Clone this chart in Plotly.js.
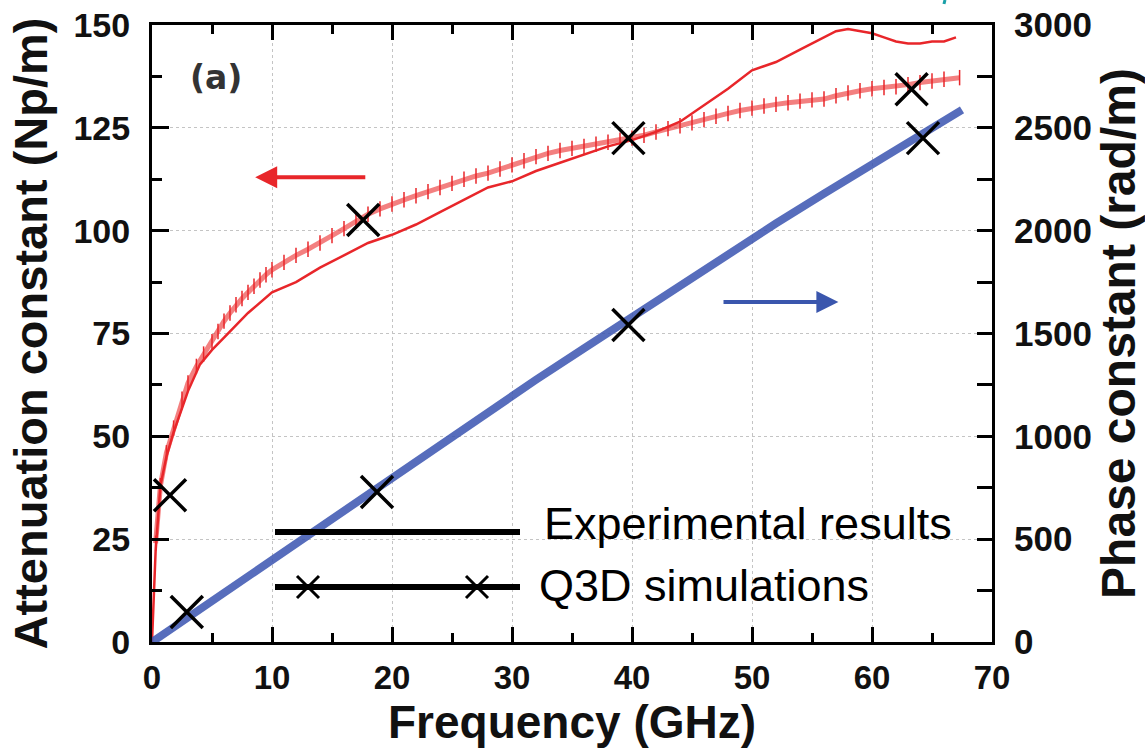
<!DOCTYPE html>
<html>
<head>
<meta charset="utf-8">
<script src="https://cdn.plot.ly/plotly-3.0.1.min.js"></script>
<style>html,body{margin:0;padding:0;background:#fff;}#chart{width:1145px;height:753px;}</style>
</head>
<body>
<div id="chart"></div>
<script>
// Attenuation constant, experimental (smooth line), Np/m
const freqExp = [0, 0.3, 0.7, 1.2, 1.8, 2.5, 3, 4, 5, 6, 7, 8, 10, 12, 14, 16, 18, 20, 22, 24, 26, 28, 30, 32, 34, 36, 38, 40, 42, 44, 46, 48, 50, 52, 54, 56, 57, 58, 59, 60, 61, 62, 63, 64, 65, 66, 67];
const alphaExp = [0, 22, 38, 45, 51, 57, 61, 67.5, 71, 74, 77, 80, 85, 87.5, 91, 94, 97, 99, 101.5, 104.5, 107.5, 110.5, 112, 114.5, 116.5, 118.5, 120.5, 122, 124, 126.5, 130.5, 134.5, 139, 141, 144, 147, 148.5, 149, 148.5, 148, 147, 146, 145.5, 145.5, 146, 146, 147];
// Attenuation constant, experimental (hatched curve), Np/m
const freqFit = [0.3, 0.7, 1.2, 1.8, 2.5, 3, 3.7, 4.3, 5, 5.5, 6, 6.5, 7, 7.5, 8, 8.5, 9, 9.5, 10, 11, 12, 13, 14, 15, 16, 17, 18, 19, 20, 21, 22, 23, 24, 25, 26, 27, 28, 29, 30, 31, 32, 33, 34, 35, 36, 37, 38, 39, 40, 41, 42, 43, 44, 45, 46, 47, 48, 49, 50, 51, 52, 53, 54, 55, 56, 57, 58, 59, 60, 61, 62, 63, 64, 65, 66, 67.3];
const alphaFit = [24, 38, 46, 52, 59, 63, 67, 70, 73, 75.5, 78, 80, 82, 83.5, 85, 86.5, 88, 89.3, 90.5, 92.3, 94, 95.5, 97, 98.8, 100.5, 102.3, 104, 105.3, 106.5, 107.5, 108.5, 109.5, 110.5, 111.5, 112.5, 113.3, 114, 115, 116, 117, 118, 118.8, 119.5, 120, 120.5, 121, 121.5, 122, 122.5, 123.2, 124, 124.8, 125.5, 126.2, 127, 127.8, 128.5, 129.2, 129.8, 130.3, 130.7, 131.1, 131.5, 131.8, 132, 132.8, 133.5, 134, 134.5, 134.8, 135, 135.5, 136, 136.4, 136.8, 137.2];
// Phase constant, experimental, rad/m
const freqPhase = [0, 2, 4, 6, 8, 10, 13, 16, 20, 24, 28, 32, 36, 40, 44, 48, 52, 56, 60, 64, 67.5];
const betaExp = [0, 80, 165, 245, 325, 405, 525, 645, 800, 960, 1118, 1275, 1428, 1580, 1735, 1888, 2035, 2180, 2322, 2462, 2587];
// Q3D simulations
const freqSimA = [1.5, 17.6, 39.7, 63.3];
const alphaSim = [35.7, 102.6, 122.5, 134.4];
const freqSimB = [2.9, 18.75, 39.7, 64.25];
const betaSim = [146, 729, 1541, 2450];

const xTicks = [0, 10, 20, 30, 40, 50, 60, 70];
const yTicks = [0, 25, 50, 75, 100, 125, 150];
const y2Ticks = [0, 500, 1000, 1500, 2000, 2500, 3000];

const RED = '#e8262a';
const BLUE = 'rgba(58,84,176,0.85)';
const FONT = 'Liberation Sans, Arial, Helvetica, sans-serif';

const traces = [
  {x: freqFit, y: alphaFit, type: 'scatter', mode: 'lines+markers', name: 'Experimental (α, hatched)',
   line: {color: 'rgba(236,50,50,0.62)', width: 5},
   marker: {symbol: 'line-ns-open', size: 11, line: {color: 'rgba(232,30,35,0.9)', width: 1.5}, color: RED}, yaxis: 'y'},
  {x: freqExp, y: alphaExp, type: 'scatter', mode: 'lines', name: 'Experimental results (α)',
   line: {color: RED, width: 2.5}, yaxis: 'y'},
  {x: freqPhase, y: betaExp, type: 'scatter', mode: 'lines', name: 'Experimental results (β)',
   line: {color: BLUE, width: 8}, yaxis: 'y2'},
  {x: freqSimA, y: alphaSim, type: 'scatter', mode: 'markers', name: 'Q3D simulations (α)',
   marker: {symbol: 'x-thin', size: 32, line: {color: '#000', width: 3.5}}, yaxis: 'y'},
  {x: freqSimB, y: betaSim, type: 'scatter', mode: 'markers', name: 'Q3D simulations (β)',
   marker: {symbol: 'x-thin', size: 32, line: {color: '#000', width: 3.5}}, yaxis: 'y2'}
];

// pixel -> paper helpers for legend decorations
const L = 152, R = 992, T = 25, B = 642;
const px = v => (v - L) / (R - L);
const py = v => (B - v) / (B - T);
function xPath(cx, cy, h) {
  return `M${px(cx - h)},${py(cy - h)} L${px(cx + h)},${py(cy + h)} M${px(cx - h)},${py(cy + h)} L${px(cx + h)},${py(cy - h)}`;
}

const axisCommon = {
  ticks: 'inside', tickcolor: '#000', tickwidth: 3,
  showline: true, linecolor: '#000', linewidth: 3,
  zeroline: false, gridcolor: '#c4c4c4', griddash: 'dot', gridwidth: 1
};

const layout = {
  width: 1145, height: 753,
  margin: {l: L, r: 1145 - R, t: T, b: 753 - B},
  paper_bgcolor: '#fff', plot_bgcolor: '#fff',
  showlegend: false,
  font: {family: FONT, color: '#111'},
  xaxis: Object.assign({}, axisCommon, {
    range: [0, 70], tickvals: xTicks, ticktext: xTicks.map(String), ticklen: 15,
    mirror: 'ticks', showgrid: true,
    minor: {dtick: 5, ticklen: 9, tickwidth: 3, tickcolor: '#000', ticks: 'inside', showgrid: false},
    tickfont: {family: FONT, size: 33, weight: 'bold', color: '#111'},
    ticklabelstandoff: 4,
    title: {text: 'Frequency (GHz)', font: {family: FONT, size: 46, weight: 'bold', color: '#111'}, standoff: 4}
  }),
  yaxis: Object.assign({}, axisCommon, {
    range: [0, 150], tickvals: yTicks, ticktext: yTicks.map(String), ticklen: 17,
    showgrid: true,
    minor: {dtick: 12.5, ticklen: 10, tickwidth: 3, tickcolor: '#000', ticks: 'inside', showgrid: false},
    tickfont: {family: FONT, size: 34, weight: 'bold', color: '#111'},
    ticklabelstandoff: 12,
    title: {text: 'Attenuation constant (Np/m)', font: {family: FONT, size: 47, weight: 'bold', color: '#111'}, standoff: 12}
  }),
  yaxis2: Object.assign({}, axisCommon, {
    overlaying: 'y', side: 'right', anchor: 'x',
    range: [0, 3000], tickvals: y2Ticks, ticktext: y2Ticks.map(String), ticklen: 15,
    showgrid: false,
    minor: {dtick: 250, ticklen: 15, tickwidth: 3, tickcolor: '#000', ticks: 'inside', showgrid: false},
    tickfont: {family: FONT, size: 35, weight: 'bold', color: '#111'},
    ticklabelstandoff: 12,
    title: {text: 'Phase constant (rad/m)', font: {family: FONT, size: 48, weight: 'bold', color: '#111'}, standoff: 10}
  }),
  shapes: [
    {type: 'line', xref: 'paper', yref: 'paper', x0: px(275), x1: px(520), y0: py(532), y1: py(532), line: {color: '#000', width: 6}},
    {type: 'line', xref: 'paper', yref: 'paper', x0: px(275), x1: px(520), y0: py(587), y1: py(587), line: {color: '#000', width: 6}},
    {type: 'path', xref: 'paper', yref: 'paper', path: xPath(308, 587, 11), line: {color: '#000', width: 3}},
    {type: 'path', xref: 'paper', yref: 'paper', path: xPath(477, 587, 11), line: {color: '#000', width: 3}},
    {type: 'line', xref: 'paper', yref: 'paper', x0: px(945), x1: px(944), y0: py(0), y1: py(4), line: {color: '#19a0a8', width: 3}}
  ],
  annotations: [
    {xref: 'paper', yref: 'paper', x: px(542), y: py(523), xanchor: 'left', yanchor: 'middle', showarrow: false,
     text: 'Experimental results', font: {family: FONT, size: 45, color: '#000'}},
    {xref: 'paper', yref: 'paper', x: px(537), y: py(585), xanchor: 'left', yanchor: 'middle', showarrow: false,
     text: 'Q3D simulations', font: {family: FONT, size: 45, color: '#000'}},
    {xref: 'paper', yref: 'paper', x: px(216), y: py(78), xanchor: 'center', yanchor: 'middle', showarrow: false,
     text: '(a)', font: {family: 'DejaVu Sans, sans-serif', size: 33, weight: 'bold', color: '#333'}},
    {xref: 'x', yref: 'y', axref: 'x', ayref: 'y', x: 8.6, y: 113, ax: 17.9, ay: 113, text: '',
     showarrow: true, arrowhead: 2, arrowsize: 1.1, arrowwidth: 4, arrowcolor: RED},
    {xref: 'x', yref: 'y2', axref: 'x', ayref: 'y2', x: 57.2, y: 1653, ax: 47.5, ay: 1653, text: '',
     showarrow: true, arrowhead: 2, arrowsize: 1.1, arrowwidth: 4, arrowcolor: '#3a56ad'}
  ]
};

Plotly.newPlot('chart', traces, layout, {staticPlot: true, displayModeBar: false});
</script>
</body>
</html>
